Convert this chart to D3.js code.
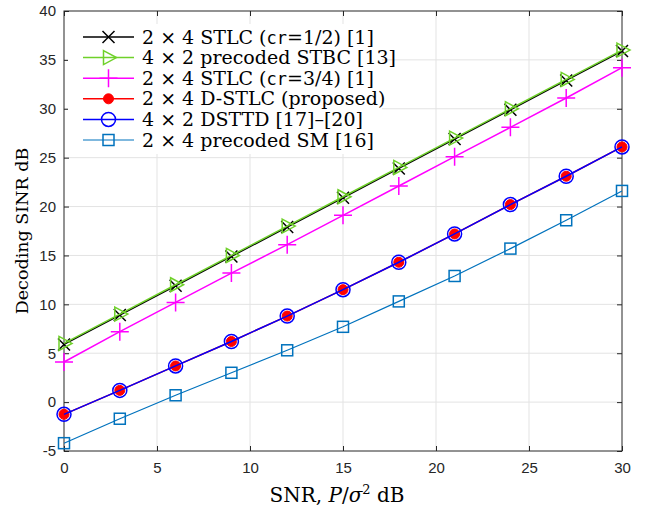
<html>
<head>
<meta charset="utf-8">
<title>Decoding SINR</title>
<style>
  body { margin: 0; background: #fff; }
  .tick text { font-family: "Liberation Sans", Arial, sans-serif; font-size: 15px; fill: #262626; }
</style>
</head>
<body>
<div id="chart"></div>
<script src="https://cdnjs.cloudflare.com/ajax/libs/d3/7.8.5/d3.min.js"></script>
<script>
// SNR points (dB)
var snr = [0, 3, 6, 9, 12, 15, 18, 21, 24, 27, 30];

// decoding SINR per scheme
var stlcHalf    = [5.9, 8.9, 11.9, 14.9, 17.9, 20.9, 23.9, 26.9, 29.9, 32.9, 35.9];
var stbcPrec    = [6.0, 9.0, 12.0, 15.0, 18.0, 21.0, 24.0, 27.0, 30.0, 33.0, 36.0];
var stlcThreeQ  = [4.1, 7.2, 10.2, 13.2, 16.1, 19.1, 22.1, 25.1, 28.1, 31.1, 34.2];
var dstlc       = [-1.25, 1.2, 3.7, 6.2, 8.8, 11.5, 14.3, 17.2, 20.2, 23.1, 26.1];
var dsttd       = [-1.25, 1.2, 3.7, 6.2, 8.8, 11.5, 14.3, 17.2, 20.2, 23.1, 26.1];
var precSM      = [-4.2, -1.7, 0.7, 3.0, 5.3, 7.7, 10.3, 12.9, 15.7, 18.6, 21.6];

var xTicks = [0, 5, 10, 15, 20, 25, 30];
var yTicks = [-5, 0, 5, 10, 15, 20, 25, 30, 35, 40];

var series = [
  {name: "stlcHalf",   vals: stlcHalf,   color: "#000000", marker: "x",      lw: 1.5},
  {name: "stbcPrec",   vals: stbcPrec,   color: "#6fd12a", marker: "tri",    lw: 1.5},
  {name: "stlcThreeQ", vals: stlcThreeQ, color: "#ff00ff", marker: "plus",   lw: 1.5},
  {name: "dstlc",      vals: dstlc,      color: "#ff0000", marker: "dot",    lw: 1.5},
  {name: "dsttd",      vals: dsttd,      color: "#0000ff", marker: "circle", lw: 1.5},
  {name: "precSM",     vals: precSM,     color: "#0072bd", marker: "square", lw: 1.2}
];

var W = 652, H = 508;
var pL = 64, pR = 622, pT = 11, pB = 451;
var serif = "'DejaVu Serif', 'Liberation Serif', serif";

var svg = d3.select("#chart").append("svg")
    .attr("width", W).attr("height", H);

var x = d3.scaleLinear().domain([0, 30]).range([pL, pR]);
var y = d3.scaleLinear().domain([-5, 40]).range([pB, pT]);

// grid
svg.append("g").selectAll("line").data(xTicks.slice(1, -1)).enter().append("line")
    .attr("x1", d => x(d)).attr("x2", d => x(d)).attr("y1", pT).attr("y2", pB)
    .attr("stroke", "#e3e3e3").attr("stroke-width", 1);
svg.append("g").selectAll("line").data(yTicks.slice(1, -1)).enter().append("line")
    .attr("y1", d => y(d)).attr("y2", d => y(d)).attr("x1", pL).attr("x2", pR)
    .attr("stroke", "#e3e3e3").attr("stroke-width", 1);

// axes, ticks pointing inward
function styleAxis(g) {
  g.select(".domain").remove();
  g.selectAll(".tick line").attr("stroke", "#262626");
  g.selectAll(".tick text").attr("font-size", null).attr("font-family", null);
}
svg.append("g").attr("transform", "translate(0," + pB + ")")
    .call(d3.axisBottom(x).tickValues(xTicks).tickSizeInner(-5).tickSizeOuter(0).tickPadding(11))
    .call(styleAxis);
svg.append("g").attr("transform", "translate(" + pL + ",0)")
    .call(d3.axisLeft(y).tickValues(yTicks).tickSizeInner(-5).tickSizeOuter(0).tickPadding(8)
      .tickFormat(d => d < 0 ? "-" + (-d) : d))
    .call(styleAxis);
svg.append("g").attr("transform", "translate(0," + pT + ")")
    .call(d3.axisTop(x).tickValues(xTicks).tickSizeInner(-5).tickSizeOuter(0).tickFormat(""))
    .call(styleAxis);
svg.append("g").attr("transform", "translate(" + pR + ",0)")
    .call(d3.axisRight(y).tickValues(yTicks).tickSizeInner(-5).tickSizeOuter(0).tickFormat(""))
    .call(styleAxis);

svg.append("rect").attr("x", pL).attr("y", pT)
    .attr("width", pR - pL).attr("height", pB - pT)
    .attr("fill", "none").attr("stroke", "#262626").attr("stroke-width", 1);

function drawMarker(g, type, color) {
  if (type === "x") {
    g.append("path").attr("d", "M-6,-6L6,6M-6,6L6,-6")
      .attr("stroke", color).attr("stroke-width", 1.5).attr("fill", "none");
  } else if (type === "tri") {
    g.append("path").attr("d", "M-5,-7L8,0L-5,7Z")
      .attr("stroke", color).attr("stroke-width", 1.5).attr("fill", "none");
  } else if (type === "plus") {
    g.append("path").attr("d", "M-9,0L9,0M0,-9L0,9")
      .attr("stroke", color).attr("stroke-width", 1.5).attr("fill", "none");
  } else if (type === "dot") {
    g.append("circle").attr("r", 5).attr("fill", color).attr("stroke", color);
  } else if (type === "circle") {
    g.append("circle").attr("r", 7)
      .attr("stroke", color).attr("stroke-width", 1.5).attr("fill", "none");
  } else if (type === "square") {
    g.append("rect").attr("x", -5.5).attr("y", -5.5).attr("width", 11).attr("height", 11)
      .attr("stroke", color).attr("stroke-width", 1.5).attr("fill", "none");
  }
}

var line = d3.line().x((d, i) => x(snr[i])).y(d => y(d));

series.forEach(function(s) {
  svg.append("path").datum(s.vals).attr("d", line)
    .attr("fill", "none").attr("stroke", s.color).attr("stroke-width", s.lw);
  s.vals.forEach(function(v, i) {
    var g = svg.append("g").attr("transform", "translate(" + x(snr[i]) + "," + y(v) + ")");
    drawMarker(g, s.marker, s.color);
  });
});

// legend
var legendLabels = [
  ["2 \u00d7 4 STLC (", "cr", "=1/2) [1]"],
  ["4 \u00d7 2 precoded STBC [13]"],
  ["2 \u00d7 4 STLC (", "cr", "=3/4) [1]"],
  ["2 \u00d7 4 D-STLC (proposed)"],
  ["4 \u00d7 2 DSTTD [17]\u2013[20]"],
  ["2 \u00d7 4 precoded SM [16]"]
];

svg.append("rect").attr("x", 68).attr("y", 24).attr("width", 314).attr("height", 130)
  .attr("fill", "#fff");

var leg = svg.append("g");
series.forEach(function(s, i) {
  var yy = 37 + i * 20.6;
  leg.append("line").attr("x1", 83).attr("x2", 134).attr("y1", yy).attr("y2", yy)
    .attr("stroke", s.color).attr("stroke-width", s.lw);
  var g = leg.append("g").attr("transform", "translate(108.5," + yy + ")");
  drawMarker(g, s.marker, s.color);
  var t = leg.append("text").attr("x", 142).attr("y", yy + 6.5)
    .attr("font-family", serif)
    .attr("font-size", 19).attr("fill", "#000");
  var parts = legendLabels[i];
  t.append("tspan").text(parts[0]);
  if (parts.length > 1) {
    t.append("tspan").attr("font-family", "'DejaVu Sans Mono', 'Liberation Mono', monospace")
      .attr("font-size", 17).text(parts[1]);
    t.append("tspan").text(parts[2]);
  }
});

// axis titles
var xl = svg.append("text").attr("x", 337).attr("y", 502)
  .attr("text-anchor", "middle")
  .attr("font-family", serif)
  .attr("font-size", 20).attr("fill", "#000");
xl.append("tspan").text("SNR, ");
xl.append("tspan").attr("font-style", "italic").text("P");
xl.append("tspan").text("/");
xl.append("tspan").attr("font-style", "italic").text("\u03c3");
xl.append("tspan").attr("font-size", 13).attr("dy", -8).text("2");
xl.append("tspan").attr("dy", 8).text(" dB");

svg.append("text")
  .attr("transform", "translate(28," + ((pT + pB) / 2) + ") rotate(-90)")
  .attr("text-anchor", "middle")
  .attr("font-family", serif)
  .attr("font-size", 17.5).attr("fill", "#000")
  .text("Decoding SINR dB");
</script>
</body>
</html>
